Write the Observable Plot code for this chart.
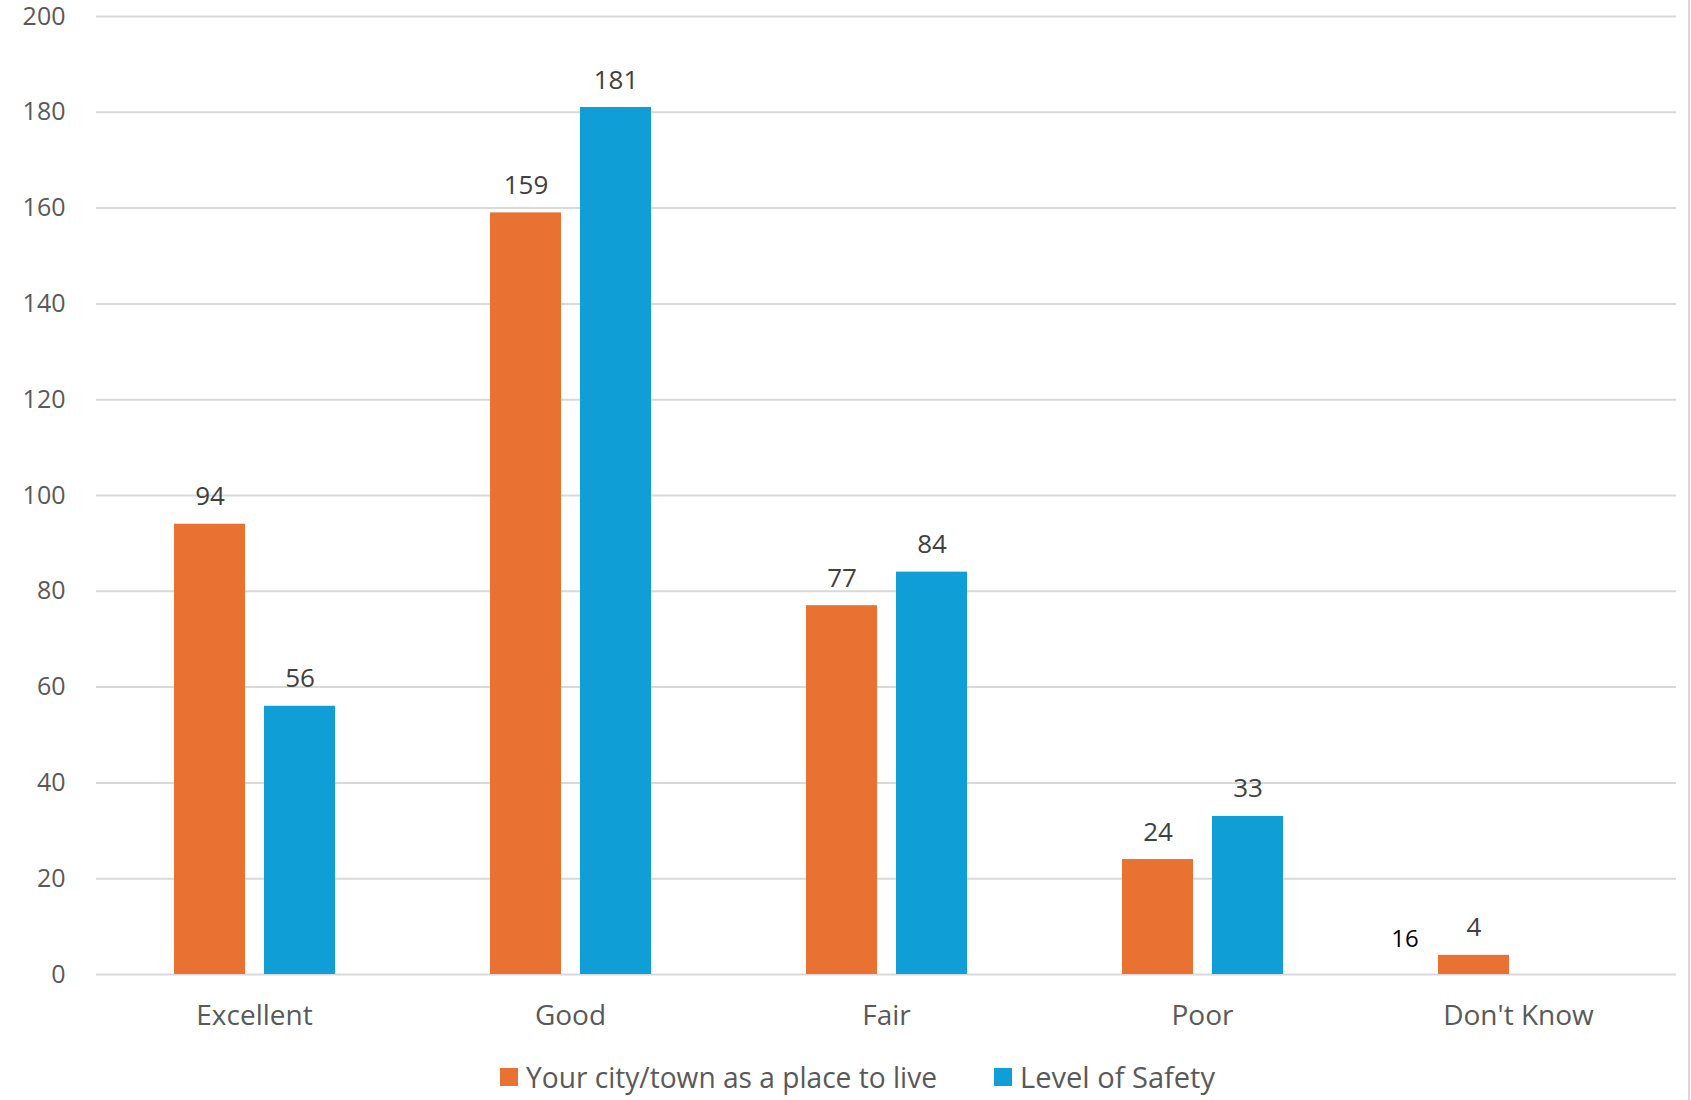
<!DOCTYPE html>
<html>
<head>
<meta charset="utf-8">
<script src="https://cdn.jsdelivr.net/npm/d3@7"></script>
<script src="https://cdn.jsdelivr.net/npm/@observablehq/plot@0.6"></script>
<style>
  html, body { margin: 0; padding: 0; background: #fff; }
  #wrap { position: relative; width: 1691px; height: 1100px; overflow: hidden; font-family: "Open Sans", "Noto Sans", sans-serif; }
  #edge { position: absolute; left: 1688px; top: 0; width: 2px; height: 1100px; background: #d9d9d9; }
  #legend { position: absolute; left: 500px; top: 1057px; display: flex; align-items: center; color: #595959; font-size: 29px; white-space: nowrap; }
  .item { display: flex; align-items: center; margin-right: 0; }
  .swatch { width: 18px; height: 18px; margin-right: 8px; flex: none; }
  .lbl { display: inline-block; transform-origin: left center; }
</style>
</head>
<body>
<div id="wrap">
  <div id="chart"></div>
  <div id="legend"></div>
  <div id="edge"></div>
</div>
<script>
// Survey ratings: count of responses per rating, for two questions
const categories = ["Excellent", "Good", "Fair", "Poor", "Don't Know"];
const seriesNames = ["Your city/town as a place to live", "Level of Safety"];
const cityValues = [94, 159, 77, 24, 4];
const safetyValues = [56, 181, 84, 33, null];
const seriesColors = ["#E97132", "#0F9ED5"];
const yTicks = [0, 20, 40, 60, 80, 100, 120, 140, 160, 180, 200];
// extra label printed beside the "Don't Know" group
const sideNote = {category: "Don't Know", text: "16"};

const rows = [];
categories.forEach((c, i) => {
  rows.push({category: c, series: seriesNames[0], value: cityValues[i]});
  rows.push({category: c, series: seriesNames[1], value: safetyValues[i]});
});
const bars = rows.filter(d => d.value != null);

const chart = Plot.plot({
  width: 1691,
  height: 1040,
  marginTop: 16,
  marginBottom: 66,
  marginLeft: 95,
  marginRight: 15,
  style: {fontFamily: "'Open Sans', 'Noto Sans', sans-serif", fontSize: "25px", color: "#595959", background: "white", overflow: "visible"},
  fx: {domain: categories, padding: 0, label: null},
  x: {domain: seriesNames, paddingInner: 0.215, paddingOuter: 0.856, axis: null},
  y: {domain: [0, 200], label: null},
  color: {domain: seriesNames, range: seriesColors},
  marks: [
    Plot.ruleY(yTicks, {stroke: "#d9d9d9", strokeWidth: 2}),
    Plot.axisY({ticks: yTicks, tickSize: 0, tickPadding: 31, label: null, fontSize: 25, dy: 0, fill: "#595959"}),
    Plot.axisFx({anchor: "bottom", tickSize: 0, tickPadding: 31, label: null, fontSize: 28, fill: "#595959"}),
    Plot.barY(bars, {fx: "category", x: "series", y: "value", fill: "series"}),
    Plot.text(bars, {fx: "category", x: "series", y: "value", text: d => String(d.value),
      lineAnchor: "bottom", dy: -19, fontSize: 26, fill: "#404040"}),
    Plot.text([sideNote], {fx: "category", x: () => seriesNames[0], y: () => cityValues[4],
      text: "text", lineAnchor: "bottom", dy: -8, dx: -69, fontSize: 24, fill: "#000000"})
  ]
});
document.getElementById("chart").appendChild(chart);

// legend below the plot
const legend = document.getElementById("legend");
const targets = [411, 195];
const gaps = [57, 0];
seriesNames.forEach((name, i) => {
  const item = document.createElement("div");
  item.className = "item";
  const sw = document.createElement("div");
  sw.className = "swatch";
  sw.style.background = seriesColors[i];
  const lbl = document.createElement("span");
  lbl.className = "lbl";
  lbl.textContent = name;
  item.appendChild(sw);
  item.appendChild(lbl);
  legend.appendChild(item);
  const w = lbl.getBoundingClientRect().width;
  const s = targets[i] / w;
  lbl.style.transform = `scaleX(${s})`;
  lbl.style.marginRight = (targets[i] - w + gaps[i]) + "px";
});
</script>
</body>
</html>
